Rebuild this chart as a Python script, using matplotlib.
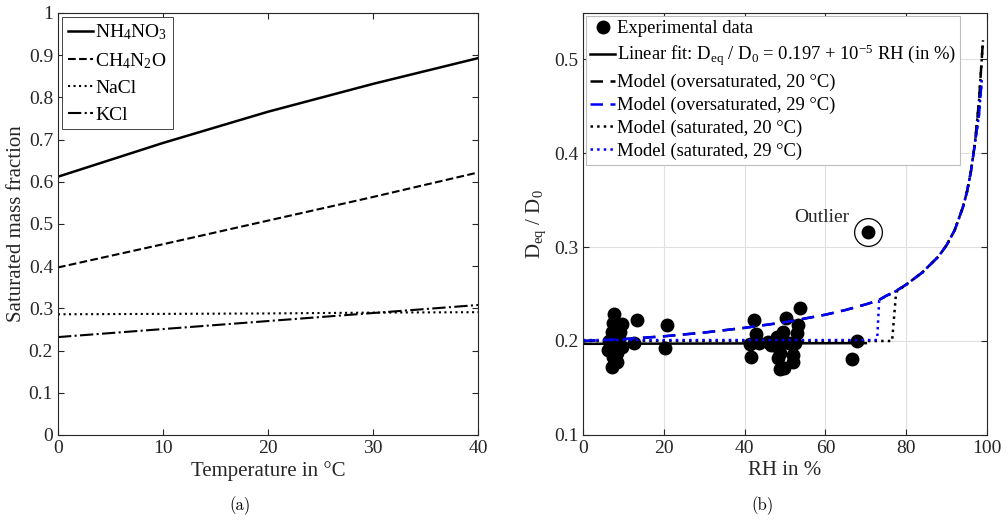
import numpy as np
import matplotlib
matplotlib.use("Agg")
import matplotlib.pyplot as plt

plt.rcParams["font.family"] = ["Liberation Serif", "DejaVu Serif"]
plt.rcParams["mathtext.fontset"] = "custom"
plt.rcParams["mathtext.rm"] = "Liberation Serif"
plt.rcParams["mathtext.it"] = "Liberation Serif"
plt.rcParams["mathtext.default"] = "rm"

# ---- (a) saturated mass fraction vs temperature ----
temp = [0, 10, 20, 30, 40]
nh4no3 = [0.612, 0.692, 0.766, 0.832, 0.893]
ch4n2o = [0.397, 0.452, 0.508, 0.564, 0.622]
nacl = [0.286, 0.287, 0.288, 0.290, 0.291]
kcl = [0.232, 0.251, 0.270, 0.289, 0.308]

# ---- (b) equilibrium diffusivity ratio vs RH ----
rh_exp = [7.7, 7.4, 9.7, 13.4, 20.8, 7.2, 9.2, 12.6, 20.3, 6.2, 7.9, 9.7, 7.4,
          8.4, 7.2, 8.4, 6.5, 8.8, 42.3, 42.8, 41.3, 41.6, 45.8, 43.5, 50.2,
          53.7, 53.2, 52.9, 49.5, 48.0, 52.5, 48.3, 48.8, 48.3, 52.0, 52.0,
          48.8, 49.8, 66.6, 67.8, 50.9, 46.5]
d_exp = [0.229, 0.219, 0.218, 0.222, 0.217, 0.210, 0.210, 0.198, 0.193, 0.190,
         0.194, 0.194, 0.183, 0.178, 0.172, 0.187, 0.200, 0.202, 0.222, 0.207,
         0.197, 0.183, 0.199, 0.198, 0.224, 0.235, 0.217, 0.209, 0.210, 0.204,
         0.198, 0.194, 0.187, 0.182, 0.185, 0.178, 0.170, 0.171, 0.181, 0.200,
         0.198, 0.196]
rh_outlier = [70.5]
d_outlier = [0.316]

rh_fit = [0, 70]
d_fit = [0.197, 0.197 + 1e-5 * 70]

rh_over = [0, 10, 20, 30, 40, 50, 60, 65, 70, 73, 75, 77, 80, 84, 88, 90, 92,
           94, 95, 96, 97, 98, 99]
d_over20 = [0.200, 0.202, 0.205, 0.209, 0.214, 0.220, 0.228, 0.233, 0.239,
            0.243, 0.248, 0.252, 0.260, 0.273, 0.290, 0.302, 0.318, 0.342,
            0.358, 0.380, 0.410, 0.455, 0.520]
rh_over29 = rh_over[:-1] + [98.7]
d_over29 = d_over20[:-2] + [0.440, 0.478]

rh_sat20 = [0, 76.5, 77.5, 80, 84, 88, 90, 92, 94, 95, 96, 97, 98, 99]
d_sat20 = [0.200, 0.200, 0.252, 0.260, 0.273, 0.290, 0.302, 0.318, 0.342,
           0.358, 0.380, 0.410, 0.455, 0.520]
rh_sat29 = [0, 72.8, 73.3, 75, 77, 80, 84, 88, 90, 92, 94, 95, 96, 97, 98, 98.7]
d_sat29 = [0.201, 0.201, 0.243, 0.248, 0.252, 0.260, 0.273, 0.290, 0.302,
           0.318, 0.342, 0.358, 0.380, 0.410, 0.440, 0.478]

fig = plt.figure(figsize=(10.08, 5.22), dpi=100)
ax1 = fig.add_axes([0.0575, 0.1667, 0.4167, 0.8084])
ax2 = fig.add_axes([0.5784, 0.1667, 0.4008, 0.8084])

txtc = "#262626"
for ax in (ax1, ax2):
    ax.tick_params(direction="in", top=True, right=True, labelsize=14,
                   colors=txtc, length=4, width=0.8)
    for s in ax.spines.values():
        s.set_color(txtc)
        s.set_linewidth(0.8)

ax1.plot(temp, nh4no3, "k-", lw=1.8, label="NH$_4$NO$_3$")
ax1.plot(temp, ch4n2o, "k--", lw=1.5, label="CH$_4$N$_2$O")
ax1.plot(temp, nacl, "k:", lw=1.5, label="NaCl")
ax1.plot(temp, kcl, "k-.", lw=1.5, label="KCl")
ax1.set_xlim(0, 40)
ax1.set_ylim(0, 1)
ax1.set_xticks([0, 10, 20, 30, 40])
ax1.set_yticks(np.arange(0, 1.01, 0.1))
ax1.set_yticklabels(["0", "0.1", "0.2", "0.3", "0.4", "0.5", "0.6", "0.7",
                     "0.8", "0.9", "1"])
ax1.set_xlabel("Temperature in °C", fontsize=15, color=txtc, labelpad=3)
ax1.set_ylabel("Saturated mass fraction", fontsize=15, color=txtc,
               labelpad=2)
leg1 = ax1.legend(loc="upper left", fontsize=14, handlelength=1.3,
                  handletextpad=0.1, borderpad=0.3, labelspacing=0.45,
                  fancybox=False, edgecolor="#262626", framealpha=1,
                  borderaxespad=0.2)
leg1.get_frame().set_linewidth(0.6)

ax2.grid(True, color="#e0e0e0", lw=0.8)
ax2.set_axisbelow(True)
ax2.plot(rh_exp, d_exp, "ko", ms=9, ls="none", label="Experimental data")
ax2.plot(rh_fit, d_fit, "k-", lw=1.8,
         label="Linear fit: D$_{eq}$ / D$_0$ = 0.197 + 10$^{-5}$ RH (in %)")
ax2.plot(rh_over, d_over20, "k--", lw=1.8, dashes=(5, 3),
         label="Model (oversaturated, 20 °C)")
ax2.plot(rh_over29, d_over29, "--", color="#0000ff", lw=1.8, dashes=(5, 3),
         label="Model (oversaturated, 29 °C)")
ax2.plot(rh_sat20, d_sat20, "k:", lw=1.8, label="Model (saturated, 20 °C)")
ax2.plot(rh_sat29, d_sat29, ":", color="#0000ff", lw=1.8,
         label="Model (saturated, 29 °C)")
ax2.plot(rh_outlier, d_outlier, "ko", ms=9, ls="none")
ax2.plot(rh_outlier, d_outlier, "o", ms=20, mfc="none", mec="k", mew=0.9)
ax2.text(rh_outlier[0] - 4.5, d_outlier[0] + 0.015, "Outlier", fontsize=14,
         ha="right", va="center", color=txtc)
ax2.set_xlim(0, 100)
ax2.set_ylim(0.1, 0.549)
ax2.set_xticks([0, 20, 40, 60, 80, 100])
ax2.set_yticks([0.1, 0.2, 0.3, 0.4, 0.5])
ax2.set_xlabel("RH in %", fontsize=15, color=txtc, labelpad=3)
ax2.set_ylabel("D$_{eq}$ / D$_0$", fontsize=15, color=txtc)
leg2 = ax2.legend(loc="upper left", fontsize=13.4, handlelength=1.3,
                  handletextpad=0.1, borderpad=0.25, labelspacing=0.3,
                  fancybox=False, edgecolor="#bdbdbd", framealpha=1,
                  borderaxespad=0.15)
leg2.get_frame().set_linewidth(0.8)

fig.text(0.238, 0.022, "(a)", fontsize=12, family="cmr10", ha="center")
fig.text(0.756, 0.022, "(b)", fontsize=12, family="cmr10", ha="center")

fig.savefig("out.png", dpi=100)
